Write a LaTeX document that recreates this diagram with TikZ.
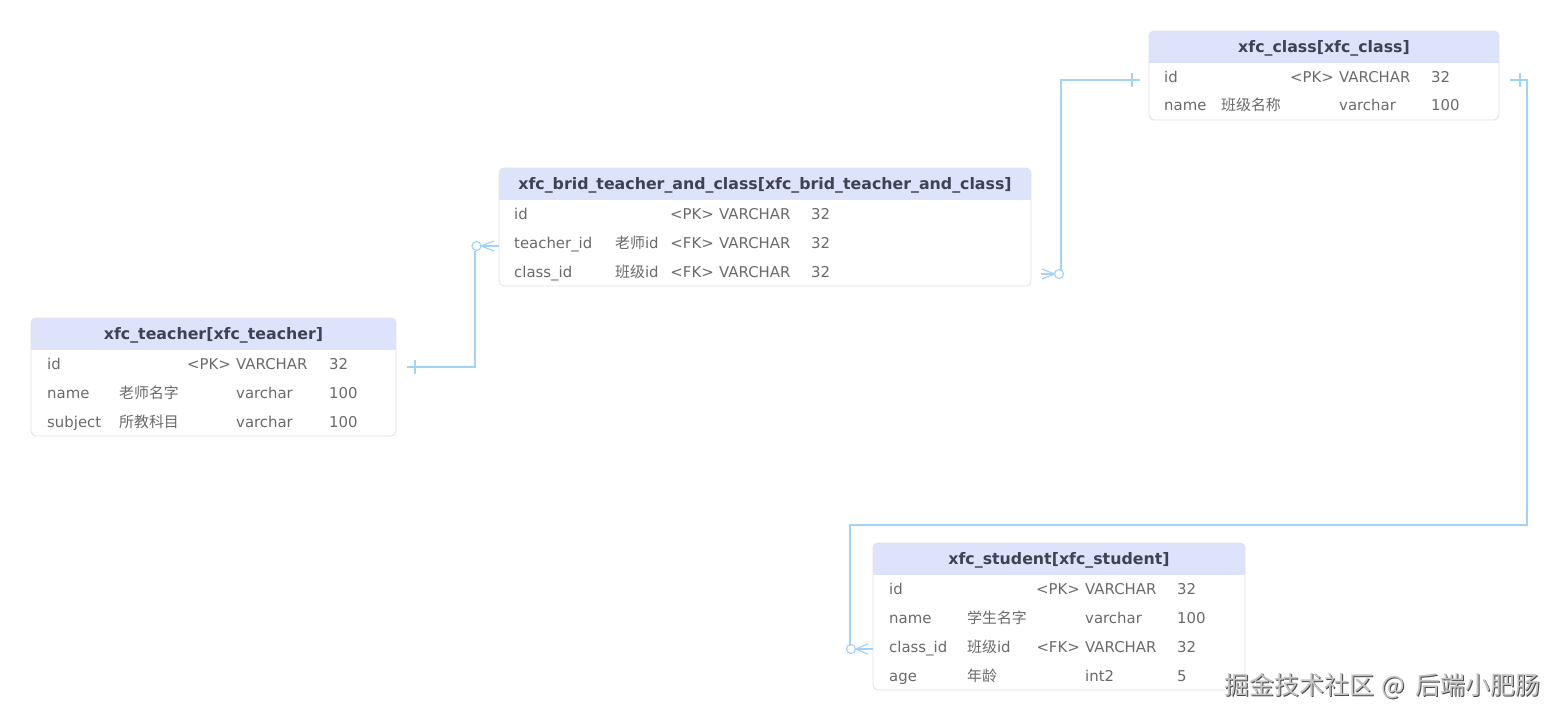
\documentclass[tikz,border=0pt]{standalone}
\usepackage{fontspec}
\setmainfont{DejaVu Sans}
\newfontfamily\cjk{Noto Sans CJK SC}
\usetikzlibrary{fit}
\definecolor{hdr}{HTML}{DDE3FB}
\definecolor{bord}{HTML}{E0E0E6}
\definecolor{ttl}{HTML}{3D4254}
\definecolor{txt}{HTML}{6A6A6A}
\definecolor{lnk}{HTML}{A2D2F5}
\definecolor{wmfill}{HTML}{C4C4C4}
\definecolor{wmedge}{HTML}{4A4A4A}

\newcommand\ertable[6]{%
  \begin{scope}
    \clip[rounded corners=5pt] (#2,#3) rectangle (#4,#5);
    \fill[white] (#2,#3) rectangle (#4,#5);
    \fill[hdr] (#2,#3) rectangle (#4,{#3+32});
  \end{scope}
  \node[box, fit={(#2,#3)(#4,#5)}] (#1) {};
  \node[ertitle] (#1-title) at ({(#2+#4)/2},{#3+21.5}) {#6};
}
\newcommand\tabrow[7]{%
  \node[cell] (#1-a) at (\ca,{#2+5.5}) {#3};
  \if\relax\detokenize{#4}\relax\else\node[cell] (#1-b) at (\cb,{#2+5.5}) {#4};\fi
  \if\relax\detokenize{#5}\relax\else\node[cell, anchor=base east] (#1-c) at ({\cd-5},{#2+5.5}) {#5};\fi
  \node[cell] (#1-d) at (\cd,{#2+5.5}) {#6};
  \node[cell] (#1-e) at (\ce,{#2+5.5}) {#7};
}

\begin{document}
\begin{tikzpicture}[x=1pt,y=-1pt,
  cell/.style={anchor=base west, inner sep=0pt, text=txt, font=\fontsize{14.9}{16}\selectfont},
  ertitle/.style={anchor=base, inner sep=0pt, text=ttl, font=\fontsize{15.8}{17}\selectfont\bfseries},
  box/.style={draw=bord, line width=0.9pt, rounded corners=5pt, inner sep=0pt},
  link/.style={draw=lnk, line width=1.15pt},
]
\useasboundingbox[fill=white] (0,0) rectangle (1558,721);

% ---------- tables ----------
\ertable{cls}{1149}{31}{1499}{120}{xfc\_class[xfc\_class]}
\def\ca{1164}\def\cb{1221}\def\cd{1339}\def\ce{1431}
\tabrow{cls-r1}{77}{id}{}{<PK>}{VARCHAR}{32}
\tabrow{cls-r2}{105}{name}{{\cjk 班级名称}}{}{varchar}{100}

\ertable{brid}{499}{168}{1031}{286}{xfc\_brid\_teacher\_and\_class[xfc\_brid\_teacher\_and\_class]}
\def\ca{514}\def\cb{615}\def\cd{719}\def\ce{811}
\tabrow{brid-r1}{214}{id}{}{<PK>}{VARCHAR}{32}
\tabrow{brid-r2}{243}{teacher\_id}{{\cjk 老师}id}{<FK>}{VARCHAR}{32}
\tabrow{brid-r3}{272}{class\_id}{{\cjk 班级}id}{<FK>}{VARCHAR}{32}

\ertable{teacher}{31}{318}{396}{436}{xfc\_teacher[xfc\_teacher]}
\def\ca{47}\def\cb{119}\def\cd{236}\def\ce{329}
\tabrow{teacher-r1}{364}{id}{}{<PK>}{VARCHAR}{32}
\tabrow{teacher-r2}{393}{name}{{\cjk 老师名字}}{}{varchar}{100}
\tabrow{teacher-r3}{422}{subject}{{\cjk 所教科目}}{}{varchar}{100}

\ertable{student}{873}{543}{1245}{690}{xfc\_student[xfc\_student]}
\def\ca{889}\def\cb{967}\def\cd{1085}\def\ce{1177}
\tabrow{student-r1}{589}{id}{}{<PK>}{VARCHAR}{32}
\tabrow{student-r2}{618}{name}{{\cjk 学生名字}}{}{varchar}{100}
\tabrow{student-r3}{647}{class\_id}{{\cjk 班级}id}{<FK>}{VARCHAR}{32}
\tabrow{student-r4}{676}{age}{{\cjk 年龄}}{}{int2}{5}

% ---------- connector 1: teacher -> brid ----------
\coordinate (c1a) at (407,367);
\coordinate (c1b) at (475,367);
\coordinate (c1c) at (475,250.5);
\coordinate (c1o) at (476.5,246);
\coordinate (c1d) at (481,246);
\coordinate (c1e) at (brid.west |- 0,246);
\draw[link] (c1a) -- (c1b) -- (c1c);
\draw[link] (415,360) -- (415,374);
\draw[link] (c1o) circle (4.5);
\draw[link] (c1d) -- (c1e);
\draw[link] (494,241) -- (c1d) -- (494,251);

% ---------- connector 2: class -> brid ----------
\coordinate (c2a) at (1140,80);
\coordinate (c2b) at (1061,80);
\coordinate (c2c) at (1061,269.5);
\coordinate (c2o) at (1059,274);
\coordinate (c2d) at (1054.5,274);
\coordinate (c2e) at (1041,274);
\draw[link] (c2a) -- (c2b) -- (c2c);
\draw[link] (1132,73) -- (1132,87);
\draw[link] (c2o) circle (4.5);
\draw[link] (c2d) -- (c2e);
\draw[link] (1042,269) -- (c2d) -- (1042,279);

% ---------- connector 3: class -> student ----------
\coordinate (c3a) at (1510,80);
\coordinate (c3b) at (1527,80);
\coordinate (c3c) at (1527,525);
\coordinate (c3d) at (850,525);
\coordinate (c3e) at (850,644.5);
\coordinate (c3o) at (851,649);
\coordinate (c3f) at (855.5,649);
\coordinate (c3g) at (student.west |- 0,649);
\draw[link] (c3a) -- (c3b) -- (c3c) -- (c3d) -- (c3e);
\draw[link] (1520,73) -- (1520,87);
\draw[link] (c3o) circle (4.5);
\draw[link] (c3f) -- (c3g);
\draw[link] (868,644) -- (c3f) -- (868,654);

% ---------- watermark ----------
\node[inner sep=0pt, text=wmedge] (wm-shadow) at (1383.6,687.1)
  {\cjk\fontsize{25}{26}\selectfont 掘金技术社区\hspace{7pt}@\hspace{10pt}后端小肥肠};
\node[inner sep=0pt, text=wmfill] (wm) at (1382.5,686)
  {\cjk\fontsize{25}{26}\selectfont 掘金技术社区\hspace{7pt}@\hspace{10pt}后端小肥肠};
\end{tikzpicture}
\end{document}
